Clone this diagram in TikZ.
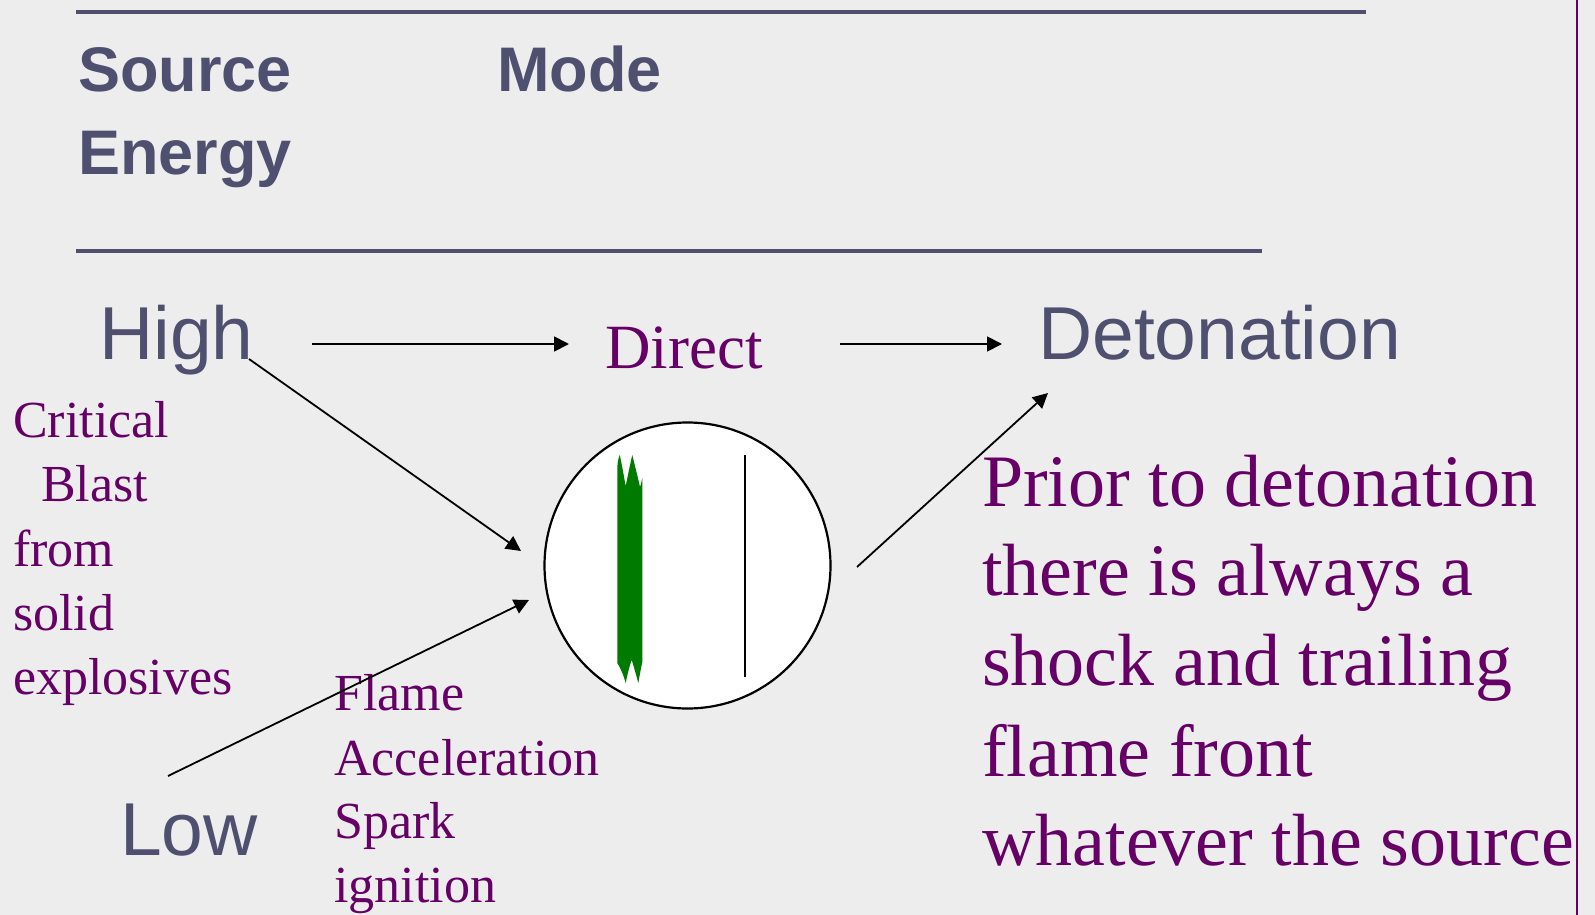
\documentclass[tikz,border=0pt]{standalone}
\usepackage{fontspec}
\setmainfont{Liberation Serif}
\setsansfont{Liberation Sans}
\usetikzlibrary{arrows.meta}
\definecolor{slate}{HTML}{4F5070}
\definecolor{plum}{HTML}{660066}
\definecolor{paper}{HTML}{EDEDED}
\definecolor{band}{HTML}{007A00}
\begin{document}
\begin{tikzpicture}[x=1pt,y=-1pt,
  rule/.style={draw=slate, line width=3.2pt},
  head/.style={font=\sffamily\bfseries\fontsize{63}{76}\selectfont, text=slate, anchor=base west, inner sep=0pt},
  level/.style={font=\sffamily\fontsize{75}{90}\selectfont, text=slate, anchor=base west, inner sep=0pt},
  note/.style={font=\fontsize{52}{62}\selectfont, text=plum, anchor=base west, inner sep=0pt},
  big/.style={font=\fontsize{74}{89}\selectfont, text=plum, anchor=base west, inner sep=0pt},
  link/.style={draw=black, line width=1.8pt, -{Triangle[length=15pt,width=15pt]}}]

% page background
\fill[paper] (0,0) rectangle (1595,915);
\useasboundingbox (0,0) rectangle (1595,915);

% header rules and right margin line
\draw[rule] (76,12) -- (1366,12);
\draw[rule] (76,251) -- (1262,251);
\draw[plum, line width=2pt] (1577,0) -- (1577,915);

% column headings
\node[head] (source) at (78,91.5) {Source};
\node[head] (energy) at (78,175) {Energy};
\node[head] (mode) at (497,91.5) {Mode};

% energy levels and outcome
\node[level] (high) at (99,359) {High};
\node[level] (low) at (120,855) {Low};
\node[level] (deto) at (1038,359) {Detonation};
\node[font=\fontsize{63}{76}\selectfont, text=plum, anchor=base west, inner sep=0pt] (direct) at (605,368) {Direct};

% side notes
\node[note] (crit1) at (13,437) {Critical};
\node[note] (crit2) at (41,501) {Blast};
\node[note] (crit3) at (13,566) {from};
\node[note] (crit4) at (13,630) {solid};
\node[note] (crit5) at (13,694) {explosives};

\node[note] (flame1) at (334,710) {Flame};
\node[note] (flame2) at (334,775) {Acceleration};
\node[note] (flame3) at (334,838) {Spark};
\node[note] (flame4) at (334,902) {ignition};

\node[big] (prior1) at (982,506) {Prior to detonation};
\node[big] (prior2) at (982,595) {there is always a};
\node[big] (prior3) at (982,685) {shock and trailing};
\node[big] (prior4) at (982,776) {flame front};
\node[big] (prior5) at (982,865) {whatever the source};

% tube with flame front and shock
\node[circle, draw=black, fill=white, line width=2.2pt, minimum size=286pt, inner sep=0pt] (tube) at (687.5,565.5) {};
\fill[band] (617.3,467)
  .. controls (618,460) .. (619.7,455)
  .. controls (621.5,462) and (624.5,480) .. (625.7,486)
  .. controls (627,480) and (630.5,462) .. (632.3,455)
  .. controls (634,462) and (638.5,480) .. (640,487)
  .. controls (641,484) .. (642.3,478)
  -- (642.3,662)
  .. controls (641,668) .. (638.3,683)
  .. controls (636.5,676) and (633,664) .. (631.7,660)
  .. controls (630,664) and (627,676) .. (625.7,683)
  .. controls (623.5,675) and (620,667) .. (617.3,663) -- cycle;
\draw[black, line width=2pt] (745,455) -- (745,677);

% arrow end points
\coordinate (hd0) at (312,344);
\coordinate (hd1) at (569,344);
\coordinate (dd0) at (840,344);
\coordinate (dd1) at (1002,344);
\coordinate (ht0) at (249,359);
\coordinate (ht1) at (521,551);
\coordinate (lt0) at (168,776);
\coordinate (lt1) at (529,600);
\coordinate (td0) at (857,567);
\coordinate (td1) at (1048,393);

\draw[link] (hd0) -- (hd1);
\draw[link] (dd0) -- (dd1);
\draw[link] (ht0) -- (ht1);
\draw[link] (lt0) -- (lt1);
\draw[link] (td0) -- (td1);
\end{tikzpicture}
\end{document}
